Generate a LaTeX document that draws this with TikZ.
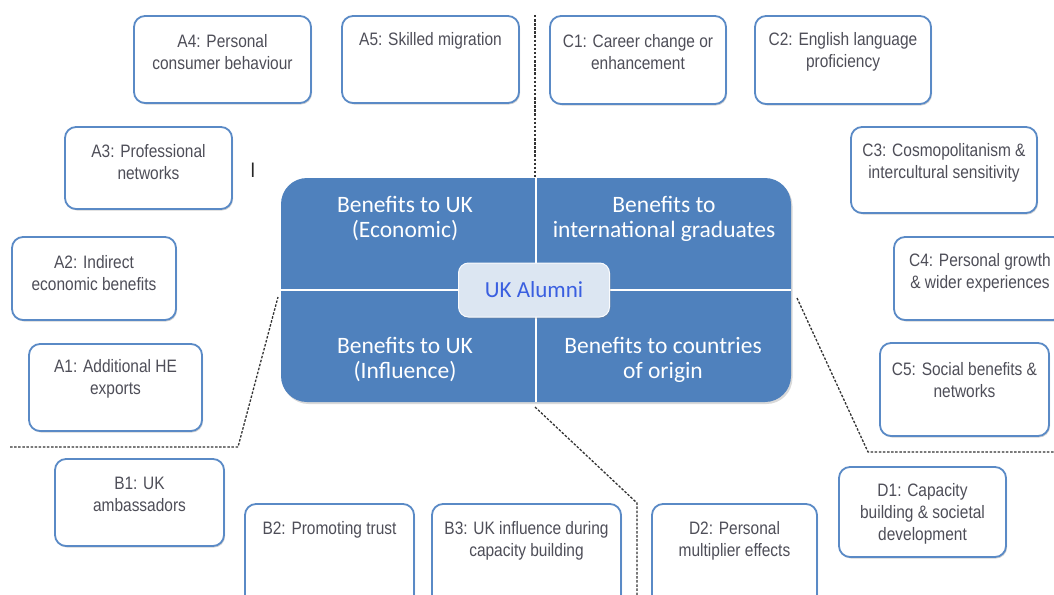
\documentclass[tikz,border=0pt]{standalone}
\usepackage{fontspec}
\setmainfont{Liberation Sans}
\newfontfamily\boxfont[FakeStretch=0.86]{Liberation Sans}
\newfontfamily\calfont{Carlito}
\usetikzlibrary{shadows}
\definecolor{boxblue}{HTML}{5A8AC6}
\definecolor{quad}{HTML}{4F81BD}
\definecolor{txtgray}{HTML}{4E4E58}
\definecolor{alumfill}{HTML}{DCE6F2}
\definecolor{alumtxt}{HTML}{3A5FE0}
\tikzset{
  ibox/.style={draw=boxblue, line width=1.8pt, rounded corners=11pt, fill=white,
    drop shadow={opacity=0.35, shadow xshift=1pt, shadow yshift=-1.5pt}, inner sep=0pt},
  itext/.style={font=\boxfont\fontsize{18}{22}\selectfont, text=txtgray, align=center, inner sep=0pt},
  qtext/.style={font=\calfont\fontsize{23.5}{25}\selectfont, text=white, align=center, inner sep=0pt},
  sepline/.style={dash pattern=on 2.5pt off 1.6pt, line width=1.3pt, black!80},
  divider/.style={white, line width=2.5pt},
}
\begin{document}
\begin{tikzpicture}[x=1pt,y=-1pt]
\useasboundingbox (0,0) rectangle (1054,594);
\clip (0,0) rectangle (1054,594);

% separators
\coordinate (l1) at (10,447); \coordinate (l2) at (238,447); \coordinate (l3) at (278,297);
\coordinate (t1) at (535,15); \coordinate (t2) at (535,178);
\coordinate (b1) at (535,407); \coordinate (b2) at (637,503); \coordinate (b3) at (637,600);
\coordinate (r1) at (797,298); \coordinate (r2) at (868,452); \coordinate (r3) at (1060,452);
\draw[sepline] (l1) -- (l2) -- (l3);
\draw[sepline] (t1) -- (t2);
\draw[sepline] (b1) -- (b2) -- (b3);
\draw[sepline] (r1) -- (r2) -- (r3);

% central block
\node[fill=quad, rounded corners=26pt, minimum width=510pt, minimum height=224pt, inner sep=0pt,
  drop shadow={opacity=0.3, shadow xshift=1.5pt, shadow yshift=-2pt}] (core) at (536,290) {};
\draw[divider] (core.north) -- (core.south);
\draw[divider] (core.west) -- (core.east);
\node[qtext] (q1) at (405,219) {Benefits to UK\\(Economic)};
\node[qtext] (q2) at (664,219) {Benefits to\\international graduates};
\node[qtext] (q3) at (405,360) {Benefits to UK\\(Influence)};
\node[qtext] (q4) at (663,360) {Benefits to countries\\of origin};
\node[fill=alumfill, draw=white!85!alumfill, line width=1pt, rounded corners=10pt,
  minimum width=151pt, minimum height=54pt, inner sep=0pt,
  drop shadow={opacity=0.3, shadow xshift=1pt, shadow yshift=-1.5pt},
  font=\calfont\fontsize{23}{25}\selectfont, text=alumtxt] (alumni) at (534,290) {UK Alumni};

% A boxes
\node[ibox, minimum width=177pt, minimum height=87pt] (A4) at (222.5,59.5) {};
\node[itext] at (222.5,52) {A4: Personal\\consumer behaviour};
\node[ibox, minimum width=177pt, minimum height=87pt] (A5) at (430.5,59.5) {};
\node[itext] at (430.5,41) {A5: Skilled migration};
\node[ibox, minimum width=167pt, minimum height=82pt] (A3) at (148.5,168) {};
\node[itext] at (148.5,162) {A3: Professional\\networks};
\node[font=\boxfont\fontsize{21}{22}\selectfont, text=black!85, inner sep=0pt] (cursor) at (253,170) {I};
\node[ibox, minimum width=164pt, minimum height=83pt] (A2) at (94,278.5) {};
\node[itext] at (94,273) {A2: Indirect\\economic benefits};
\node[ibox, minimum width=173pt, minimum height=87pt] (A1) at (115.5,387.5) {};
\node[itext] at (115.5,379) {A1: Additional HE\\exports};

% C boxes
\node[ibox, minimum width=176pt, minimum height=88pt] (C1) at (638,60) {};
\node[itext] at (638,52) {C1: Career change or\\enhancement};
\node[ibox, minimum width=176pt, minimum height=88pt] (C2) at (843,60) {};
\node[itext] at (843,52) {C2: English language\\proficiency};
\node[ibox, minimum width=186pt, minimum height=86pt] (C3) at (944,170) {};
\node[itext] at (944,163) {C3: Cosmopolitanism \&\\intercultural sensitivity};
\node[ibox, minimum width=170pt, minimum height=83pt] (C4) at (979,278.5) {};
\node[itext] at (980,273) {C4: Personal growth\\\& wider experiences};
\node[ibox, minimum width=169pt, minimum height=93pt] (C5) at (964.5,389.5) {};
\node[itext] at (964.5,380) {C5: Social benefits \&\\networks};

% B boxes
\node[ibox, minimum width=169pt, minimum height=87pt] (B1) at (139.5,502.5) {};
\node[itext] at (139.5,494) {B1: UK\\ambassadors};
\node[ibox, minimum width=169pt, minimum height=106pt] (B2) at (329.5,557) {};
\node[itext] at (329.5,530) {B2: Promoting trust};
\node[ibox, minimum width=189pt, minimum height=106pt] (B3) at (526.5,557) {};
\node[itext] at (526.5,541) {B3: UK influence during\\capacity building};

% D boxes
\node[ibox, minimum width=165pt, minimum height=106pt] (D2) at (734.5,557) {};
\node[itext] at (734.5,541) {D2: Personal\\multiplier effects};
\node[ibox, minimum width=167pt, minimum height=90pt] (D1) at (922.5,512) {};
\node[itext] at (922.5,514) {D1: Capacity\\building \& societal\\development};
\end{tikzpicture}
\end{document}
